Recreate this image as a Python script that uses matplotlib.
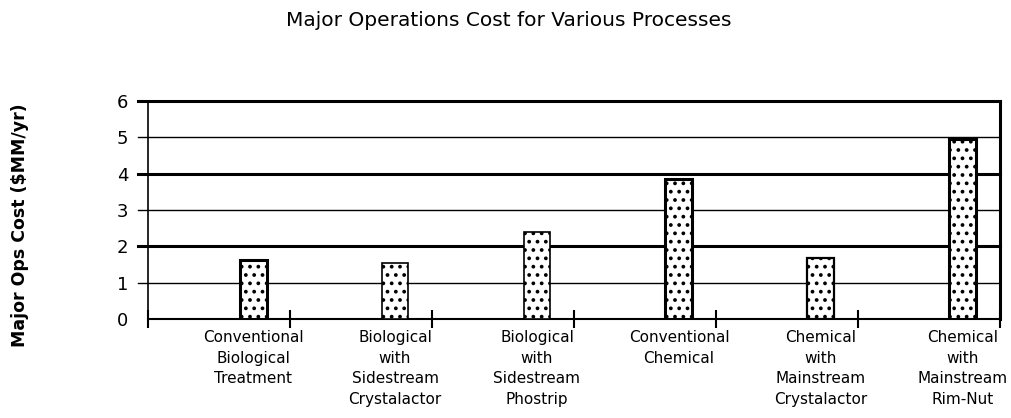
import numpy as np
import matplotlib
matplotlib.use('Agg')
import matplotlib.pyplot as plt

# data
processes = [
    'Conventional\nBiological\nTreatment',
    'Biological\nwith\nSidestream\nCrystalactor',
    'Biological\nwith\nSidestream\nPhostrip',
    'Conventional\nChemical',
    'Chemical\nwith\nMainstream\nCrystalactor',
    'Chemical\nwith\nMainstream\nRim-Nut',
]
cost = [1.63, 1.54, 2.40, 3.84, 1.69, 4.94]
y_ticks = [0, 1, 2, 3, 4, 5, 6]

plt.rcParams['font.family'] = ['DejaVu Sans']
plt.rcParams['hatch.linewidth'] = 1.5

fig = plt.figure(figsize=(10.12, 4.18), dpi=100)
ax = fig.add_axes([0.1462, 0.2361, 0.988 - 0.1462, 0.759 - 0.2361])

n = len(processes)
pos = np.arange(n) + 0.74
edge_w = [2.2, 1.2, 1.2, 2.2, 1.6, 2.2]

# gridlines: even values heavy, odd values light
for v in y_ticks[1:]:
    lw = 2.2 if v % 2 == 0 else 1.0
    ax.axhline(v, xmin=-0.012, xmax=1, color='black', lw=lw, clip_on=False, zorder=1)

for x, c, w in zip(pos, cost, edge_w):
    ax.bar(x, c, width=0.19, color='white', edgecolor='black', hatch='..',
           linewidth=w, zorder=3)

ax.set_xlim(0, n)
ax.set_ylim(0, 6)

ax.set_yticks(y_ticks)
ax.tick_params(axis='y', length=0, pad=14, labelsize=13)

ax.set_xticks(np.arange(n + 1))
ax.set_xticklabels([])
ax.tick_params(axis='x', which='major', direction='inout', length=13, width=1.5)
ax.set_xticks(pos, minor=True)
ax.set_xticklabels(processes, minor=True, fontsize=11, linespacing=1.45)
ax.tick_params(axis='x', which='minor', length=0, pad=8)

ax.spines['top'].set_visible(False)
ax.spines['left'].set_linewidth(1.2)
ax.spines['left'].set_bounds(-0.03, 6)
ax.spines['right'].set_linewidth(2.2)
ax.spines['bottom'].set_linewidth(1.5)

fig.text(0.503, 1 - 21 / 418, 'Major Operations Cost for Various Processes',
         ha='center', va='center', fontsize=14.5)
fig.text(20 / 1012, 1 - 225 / 418, 'Major Ops Cost ($MM/yr)', rotation=90,
         ha='center', va='center', fontsize=12.5, fontweight='bold')

fig.savefig('out.png', dpi=100)
